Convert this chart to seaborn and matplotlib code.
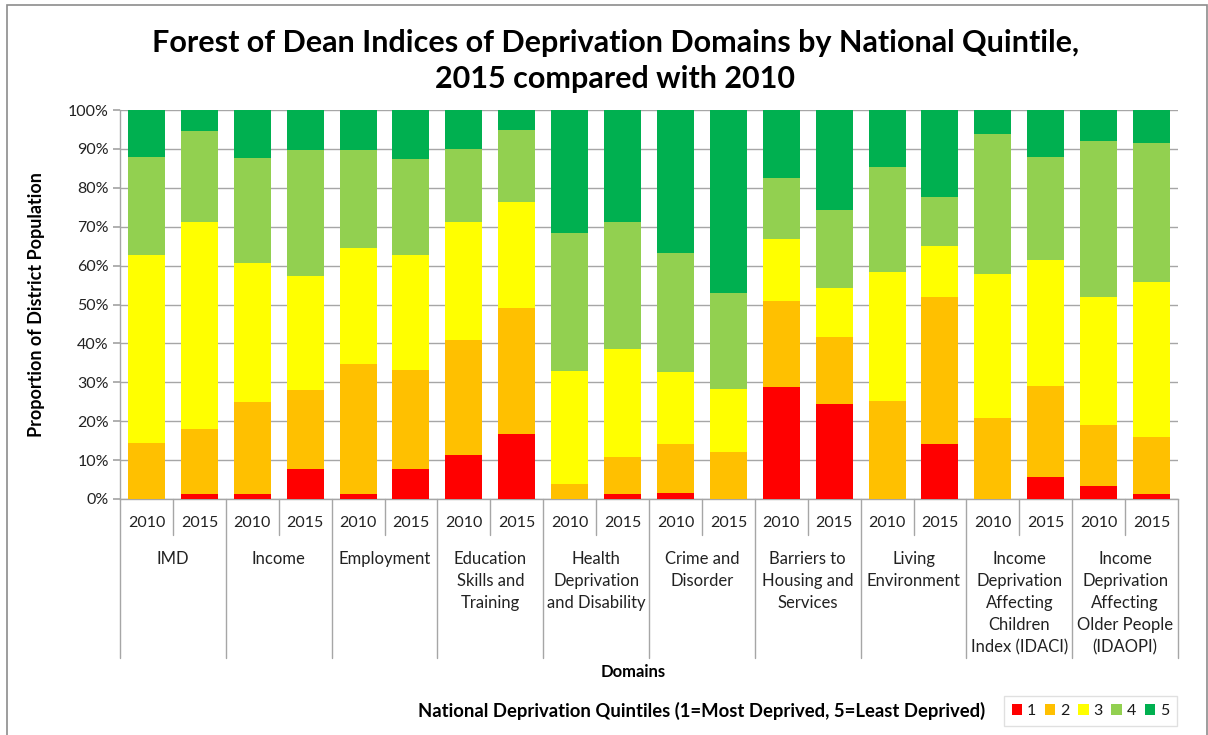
import matplotlib
matplotlib.use("Agg")
import matplotlib.pyplot as plt
import matplotlib.transforms as mtransforms
from matplotlib.patches import Patch, Rectangle
from matplotlib.lines import Line2D
from matplotlib.ticker import FuncFormatter
import numpy as np
import pandas as pd
import seaborn as sns

# ---------------- data ----------------
domains = ["IMD", "Income", "Employment", "Education\nSkills and\nTraining",
           "Health\nDeprivation\nand Disability", "Crime and\nDisorder",
           "Barriers to\nHousing and\nServices", "Living\nEnvironment",
           "Income\nDeprivation\nAffecting\nChildren\nIndex (IDACI)",
           "Income\nDeprivation\nAffecting\nOlder People\n(IDAOPI)"]
years = ["2010", "2015"]
quintiles = ["1", "2", "3", "4", "5"]

# share of district population (%) per bar, order: domain x year
q1 = [0.0, 1.4, 1.4, 7.6, 1.4, 7.6, 11.2, 16.7, 0.0, 1.4,
      1.5, 0.0, 28.7, 24.5, 0.0, 14.2, 0.0, 5.7, 3.4, 1.4]
q2 = [14.3, 16.5, 23.6, 20.4, 33.3, 25.5, 29.7, 32.4, 3.8, 9.4,
      12.7, 12.0, 22.2, 17.1, 25.2, 37.7, 20.9, 23.4, 15.6, 14.6]
q3 = [48.4, 53.4, 35.6, 29.4, 29.9, 29.5, 30.4, 27.2, 29.1, 27.7,
      18.5, 16.4, 16.0, 12.6, 33.1, 13.2, 37.0, 32.4, 32.9, 39.8]
q4 = [25.1, 23.2, 27.0, 32.4, 25.0, 24.8, 18.7, 18.5, 35.5, 32.7,
      30.6, 24.6, 15.5, 20.1, 27.0, 12.6, 36.0, 26.5, 40.2, 35.8]
q5 = [12.2, 5.5, 12.4, 10.2, 10.4, 12.6, 10.0, 5.2, 31.6, 28.8,
      36.7, 47.0, 17.6, 25.7, 14.7, 22.3, 6.1, 12.0, 7.9, 8.4]

colors = ["#FF0000", "#FFC000", "#FFFF00", "#92D050", "#00B050"]

# ---------------- build ----------------
keys = [f"{d}|{y}" for d in domains for y in years]
series = [q1, q2, q3, q4, q5]
df = pd.DataFrame({"key": keys})
cum = np.zeros(len(keys))
for name, vals in zip(quintiles, series):
    cum = cum + np.array(vals)
    df["c" + name] = cum.copy()

sns.set_theme(style="white")
plt.rcParams["font.family"] = ["Lato", "DejaVu Sans"]
plt.rcParams["text.color"] = "#1a1a1a"

W, H = 1208, 735
fig = plt.figure(figsize=(W / 100, H / 100), dpi=100)
ax = fig.add_axes([120 / W, 1 - 499 / H, (1178 - 120) / W, (499 - 110) / H])

for i in range(4, -1, -1):
    sns.barplot(data=df, x="key", y="c" + quintiles[i], order=keys,
                color=colors[i], saturation=1, width=0.7, ax=ax,
                linewidth=0, zorder=3)

ax.set_ylim(0, 100)
ax.set_xlim(-0.5, len(keys) - 0.5)
ax.set_yticks(np.arange(0, 101, 10))
ax.yaxis.set_major_formatter(FuncFormatter(lambda v, p: f"{int(v)}%"))
ax.grid(axis="y", color="#A6A6A6", linewidth=1, zorder=0)
ax.set_axisbelow(True)
for s in ["top", "right"]:
    ax.spines[s].set_visible(False)
for s in ["left", "bottom"]:
    ax.spines[s].set_color("#A6A6A6")
    ax.spines[s].set_linewidth(1)
ax.tick_params(axis="y", length=5, color="#A6A6A6", labelsize=11.5, pad=3,
               left=True, labelcolor="#222222")
ax.set_xticks(range(len(keys)))
ax.set_xticklabels([k.split("|")[1] for k in keys])
ax.tick_params(axis="x", length=0, labelsize=11.5, pad=12.5, labelcolor="#222222")
ax.set_xlabel("")
ax.set_ylabel("Proportion of District Population", fontsize=13, fontweight="bold",
              color="black")
ax.yaxis.set_label_coords((45 - 120) / 1058, 0.5)

# category separators
trans = mtransforms.blended_transform_factory(ax.transData, fig.transFigure)
y_axis = 1 - 499 / H
for i in range(len(keys) + 1):
    xb = i - 0.5
    ylow = 1 - 658 / H if i % 2 == 0 else 1 - 535 / H
    fig.add_artist(Line2D([xb, xb], [y_axis, ylow], transform=trans,
                          color="#A6A6A6", linewidth=1))

for g, d in enumerate(domains):
    ax.text(2 * g + 0.5, 1 - 551 / H, d, transform=trans, ha="center", va="top",
            fontsize=12, linespacing=1.47, color="#222222")

fig.text(633 / W, 1 - 672 / H, "Domains", ha="center", va="center",
         fontsize=12, fontweight="bold", color="black")

fig.text(615 / W, 1 - 61 / H,
         "Forest of Dean Indices of Deprivation Domains by National Quintile,\n2015 compared with 2010",
         ha="center", va="center", fontsize=22, fontweight="bold", linespacing=1.32,
         color="black")

fig.text(985 / W, 1 - 711 / H,
         "National Deprivation Quintiles (1=Most Deprived, 5=Least Deprived)",
         ha="right", va="center", fontsize=13.3, fontweight="bold", color="black")

handles = [Patch(facecolor=c, edgecolor="none", label=q) for c, q in zip(colors, quintiles)]
leg = fig.legend(handles=handles, loc="center", ncol=5,
                 bbox_to_anchor=((1001 + 1180) / 2 / W, 1 - 711 / H),
                 handlelength=0.65, handleheight=0.65, handletextpad=0.3,
                 columnspacing=0.55, fontsize=11.5, frameon=True, fancybox=False,
                 borderpad=0.5)
leg.get_frame().set_edgecolor("#D9D9D9")
leg.get_frame().set_linewidth(1)

fig.add_artist(Rectangle((7.5 / W, -0.05), (1207 - 7.5) / W, 1.05 - 4.5 / H,
                         transform=fig.transFigure, fill=False,
                         edgecolor="#8C8C8C", linewidth=1.2))

fig.savefig("out.png", dpi=100, facecolor="white")
